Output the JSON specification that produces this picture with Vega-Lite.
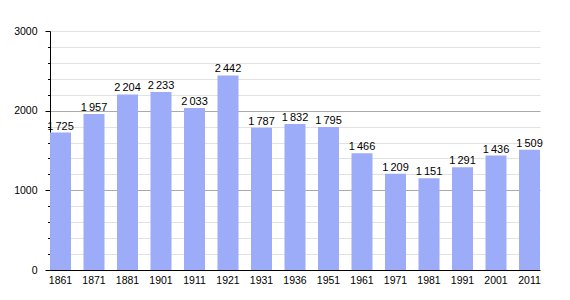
{
  "$schema": "https://vega.github.io/schema/vega-lite/v6.json",
  "width": 490,
  "height": 239,
  "autosize": {"type": "none"},
  "padding": {"left": 50, "top": 31, "right": 30, "bottom": 30},
  "background": "white",
  "config": {
    "view": {"stroke": null},
    "locale": {"number": {"decimal": ",", "thousands": "\u2009", "grouping": [3], "currency": ["", " €"]}},
    "font": "Liberation Sans"
  },
  "data": {
    "values": [
      {"year": "1861", "pop": 1725},
      {"year": "1871", "pop": 1957},
      {"year": "1881", "pop": 2204},
      {"year": "1901", "pop": 2233},
      {"year": "1911", "pop": 2033},
      {"year": "1921", "pop": 2442},
      {"year": "1931", "pop": 1787},
      {"year": "1936", "pop": 1832},
      {"year": "1951", "pop": 1795},
      {"year": "1961", "pop": 1466},
      {"year": "1971", "pop": 1209},
      {"year": "1981", "pop": 1151},
      {"year": "1991", "pop": 1291},
      {"year": "2001", "pop": 1436},
      {"year": "2011", "pop": 1509}
    ]
  },
  "encoding": {
    "x": {
      "field": "year", "type": "ordinal", "sort": null,
      "scale": {"paddingInner": 0.373, "paddingOuter": 0},
      "axis": {"title": null, "labelAngle": 0, "ticks": false, "domainColor": "#000", "domainWidth": 1, "labelColor": "#000", "labelFontSize": 10.5, "labelPadding": 5}
    },
    "y": {
      "field": "pop", "type": "quantitative",
      "scale": {"domain": [0, 3000], "nice": false},
      "axis": {
        "title": null,
        "values": [0, 200, 400, 600, 800, 1000, 1200, 1400, 1600, 1800, 2000, 2200, 2400, 2600, 2800, 3000],
        "labelExpr": "datum.value % 1000 === 0 ? datum.value : ''",
        "format": "d",
        "domainColor": "#000",
        "domainWidth": 1,
        "tickColor": "#000",
        "tickSize": {"condition": {"test": "datum.value % 1000 === 0", "value": 5}, "value": 2.5},
        "gridColor": {"condition": {"test": "datum.value % 1000 === 0 && datum.value > 0 && datum.value < 3000", "value": "#aaaaaa"}, "value": "#e2e2e2"},
        "labelColor": "#000",
        "labelFontSize": 10.5,
        "labelPadding": 8
      }
    }
  },
  "layer": [
    {"mark": {"type": "bar", "color": "#9cacf8"}},
    {
      "mark": {"type": "text", "baseline": "bottom", "dy": -1, "fontSize": 11, "color": "#000"},
      "encoding": {"text": {"field": "pop", "type": "quantitative", "format": ",d"}}
    }
  ]
}
